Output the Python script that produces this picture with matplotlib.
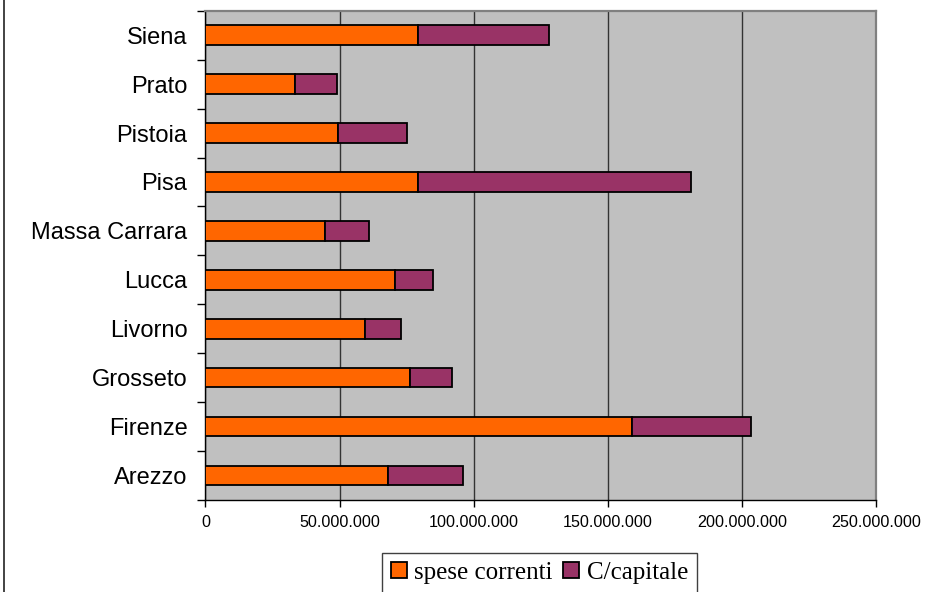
import matplotlib.pyplot as plt
import numpy as np
from matplotlib.ticker import FuncFormatter, MultipleLocator
from matplotlib.lines import Line2D

# --- data (in euro)
cities = ['Arezzo', 'Firenze', 'Grosseto', 'Livorno', 'Lucca',
          'Massa Carrara', 'Pisa', 'Pistoia', 'Prato', 'Siena']
spese_correnti = [68.0e6, 158.9e6, 76.3e6, 59.4e6, 70.6e6,
                  44.6e6, 79.1e6, 49.5e6, 33.5e6, 79.1e6]
c_capitale = [28.1e6, 44.2e6, 15.5e6, 13.4e6, 14.2e6,
              16.3e6, 101.7e6, 25.5e6, 15.5e6, 49.0e6]
series_names = ['spese correnti', 'C/capitale']

# --- plot
fig = plt.figure(figsize=(9.26, 5.92), dpi=100)
ax = fig.add_axes([0.2219, 0.1554, 0.7246, 0.8265])
ax.set_facecolor('#C0C0C0')

y = np.arange(len(cities))
ax.barh(y, spese_correnti, height=0.4, color='#FF6600', edgecolor='black',
        linewidth=1.3, label=series_names[0], zorder=3)
ax.barh(y, c_capitale, left=spese_correnti, height=0.4, color='#993366',
        edgecolor='black', linewidth=1.3, label=series_names[1], zorder=3)

ax.set_xlim(0, 250e6)
ax.set_ylim(-0.5, len(cities) - 0.5)
ax.xaxis.set_major_locator(MultipleLocator(50e6))
ax.xaxis.set_major_formatter(FuncFormatter(lambda v, p: f'{int(v):,}'.replace(',', '.')))
ax.grid(axis='x', color='#333333', linewidth=1.0, zorder=1)

ax.set_yticks(y)
ax.set_yticklabels(cities, fontsize=17, fontfamily='Liberation Sans')
ax.set_yticks(np.arange(-0.5, len(cities)), minor=True)
ax.tick_params(axis='y', which='major', length=0, pad=13)
ax.tick_params(axis='y', which='minor', length=6, width=1, color='black')
ax.tick_params(axis='x', length=5, width=1, pad=6, labelsize=11.6)
for lab in ax.get_xticklabels():
    lab.set_fontfamily('Liberation Sans')

for side in ['top', 'right']:
    ax.spines[side].set_color('#808080')
    ax.spines[side].set_linewidth(1.6)
for side in ['left', 'bottom']:
    ax.spines[side].set_color('black')
    ax.spines[side].set_linewidth(1.0)

# legend below the plot, clipped by the figure edge like the original
leg = fig.legend(loc='upper center', bbox_to_anchor=(0.5825, 0.066), ncol=2,
                 prop={'family': 'Liberation Serif', 'size': 18},
                 handlelength=0.65, handleheight=0.65, handletextpad=0.3,
                 columnspacing=0.4, borderpad=0.35, borderaxespad=0,
                 fancybox=False, framealpha=1, edgecolor='#404040')
leg.get_frame().set_linewidth(1.0)

# outer chart border on the left
fig.add_artist(Line2D([3.5 / 926, 3.5 / 926], [0, 1], color='#222222', linewidth=1.2))

fig.savefig('out.png', dpi=100)
